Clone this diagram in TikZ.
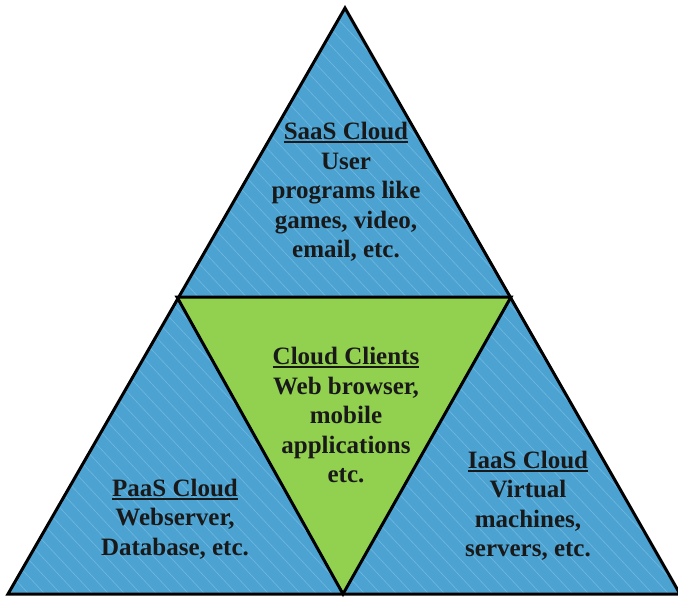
\documentclass[tikz,border=0pt]{standalone}
\usepackage{fontspec}
\setmainfont{Liberation Serif}
\definecolor{cloudblue}{RGB}{76,163,210}
\definecolor{hatchblue}{RGB}{112,184,224}
\definecolor{clientgreen}{RGB}{146,208,80}
\tikzset{
  edge/.style={draw=black,line width=3pt,line join=miter},
  label/.style={align=center,font=\fontsize{25}{29.5}\selectfont\bfseries,text=black!90,inner sep=0pt},
}
% heading with a heavier underline
\newcommand{\ttl}[1]{\leavevmode\vtop{\hbox{#1}\kern1.2pt\hrule height 2pt}}
\begin{document}
\begin{tikzpicture}[x=1pt,y=-1pt]
\useasboundingbox (0,0) rectangle (678,598);
% outer corners and inner (client) triangle corners
\coordinate (A) at (8,594);
\coordinate (B) at (680,594);
\coordinate (C) at (345,8);
\coordinate (P) at (177,297);
\coordinate (Q) at (511,297);
\coordinate (R) at (343,594);
% blue body with faint diagonal hatching
\fill[cloudblue] (A) -- (B) -- (C) -- cycle;
\begin{scope}
  \clip (A) -- (B) -- (C) -- cycle;
  \foreach \k in {-704,-688,...,704}
    \draw[hatchblue,line width=0.6pt] (\k,0) -- ++(600,640);
\end{scope}
% green client triangle
\fill[clientgreen] (P) -- (Q) -- (R) -- cycle;
\draw[edge] (P) -- (Q) -- (R) -- cycle;
\draw[edge] (A) -- (B) -- (C) -- cycle;
% labels
\node[label] (saas) at (346,192) {\ttl{SaaS Cloud}\\User\\programs like\\games, video,\\email, etc.};
\node[label] (clients) at (346,415) {\ttl{Cloud Clients}\\Web browser,\\mobile\\applications\\etc.};
\node[label] (paas) at (175,519) {\ttl{PaaS Cloud}\\Webserver,\\Database, etc.};
\node[label] (iaas) at (528,506) {\ttl{IaaS Cloud}\\Virtual\\machines,\\servers, etc.};
\end{tikzpicture}
\end{document}
